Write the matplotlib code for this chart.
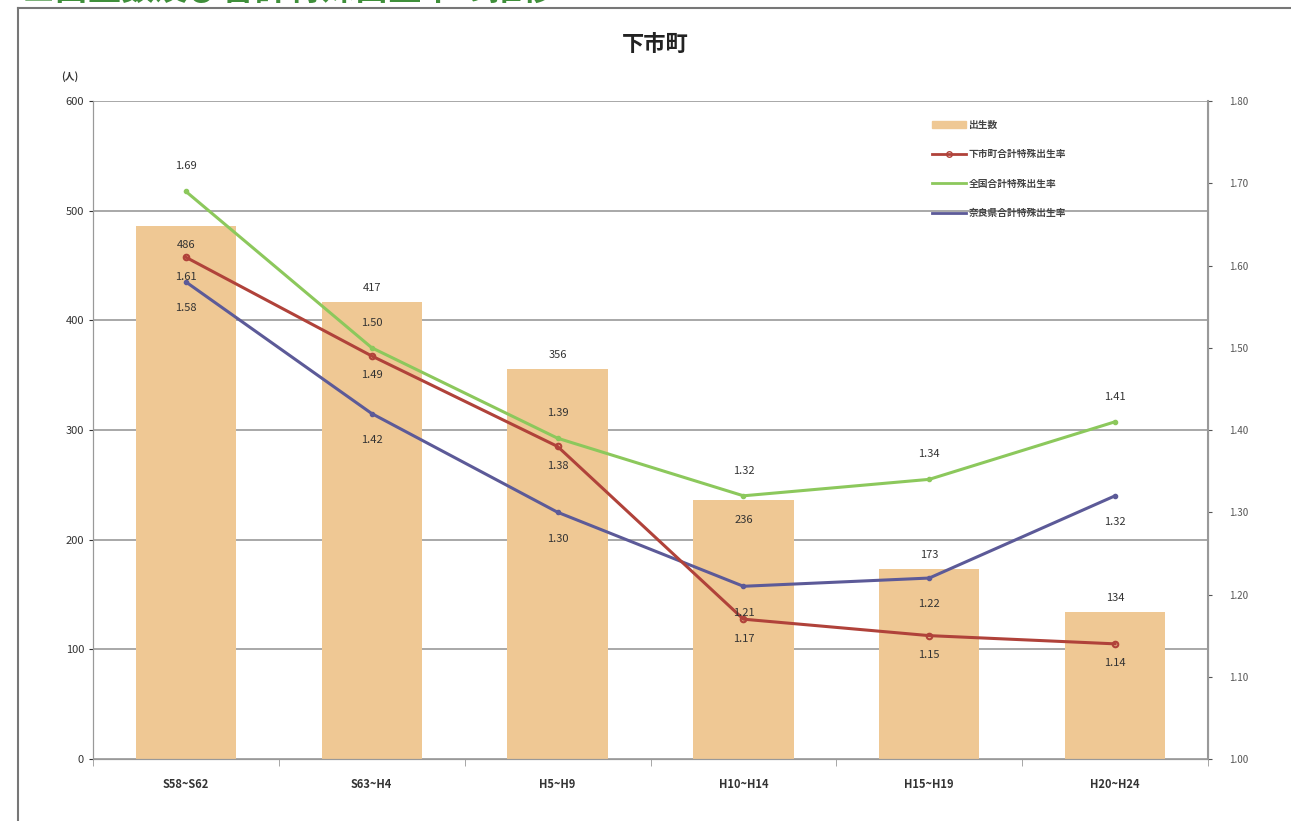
import numpy as np
import matplotlib
matplotlib.use('Agg')
import matplotlib.pyplot as plt
from matplotlib.lines import Line2D
from matplotlib.patches import Patch

plt.rcParams['font.family'] = ['Noto Sans CJK JP', 'DejaVu Sans']

# data
periods = ['S58~S62', 'S63~H4', 'H5~H9', 'H10~H14', 'H15~H19', 'H20~H24']
births = [486, 417, 356, 236, 173, 134]
rate_town = [1.61, 1.49, 1.38, 1.17, 1.15, 1.14]
rate_japan = [1.69, 1.50, 1.39, 1.32, 1.34, 1.41]
rate_pref = [1.58, 1.42, 1.30, 1.21, 1.22, 1.32]

bar_color = '#EFC894'
red = '#B0423A'
green = '#8CC85C'
blue = '#5C5A98'
text_c = '#333333'

fig = plt.figure(figsize=(12.91, 8.21), dpi=100)
ax = fig.add_axes([93 / 1291, 62 / 821, 1115 / 1291, 658 / 821])
ax2 = ax.twinx()

x = np.arange(len(periods))
ax.bar(x, births, width=0.54, color=bar_color, zorder=2)
ax.set_xlim(-0.5, len(periods) - 0.5)
ax.set_ylim(0, 600)
ax.set_yticks(range(0, 601, 100))
ax.yaxis.grid(True, color='#9a9a9a', lw=1.2, zorder=0)
ax.set_axisbelow(True)
ax.set_xticks(x)
ax.set_xticklabels(periods, fontsize=8, color=text_c, fontweight='bold')
ax.set_xticks(np.arange(-0.5, len(periods)), minor=True)
ax.tick_params(axis='x', which='major', length=0, pad=14)
ax.tick_params(axis='x', which='minor', length=5, color='#999999')
ax.tick_params(axis='y', labelsize=8, colors=text_c, length=3)
for s in ['top']:
    ax.spines[s].set_visible(False)
    ax2.spines[s].set_visible(False)
for s in ['left', 'bottom', 'right']:
    ax.spines[s].set_color('#999999')
    ax2.spines[s].set_color('#999999')
ax2.spines['right'].set_linewidth(1.5)

ax2.set_ylim(1.0, 1.8)
ax2.set_yticks(np.arange(1.0, 1.81, 0.1))
ax2.set_yticklabels([f'{v:.2f}' for v in np.arange(1.0, 1.81, 0.1)])
ax2.tick_params(axis='y', labelsize=7, colors='#555555', length=3, pad=12)

ax2.plot(x, rate_japan, color=green, lw=2.2, marker='o', ms=3, zorder=3)
ax2.plot(x, rate_town, color=red, lw=2.2, marker='o', ms=4, mfc='none', mew=1.5, zorder=4)
ax2.plot(x, rate_pref, color=blue, lw=2.2, marker='o', ms=3, zorder=3)

# labels
for i, v in enumerate(births):
    off = -14 if i in (0, 3) else 10
    ax.annotate(str(v), (x[i], v), xytext=(0, off), textcoords='offset points',
                ha='center', va='center', fontsize=8, color=text_c, zorder=5)
for i, v in enumerate(rate_japan):
    ax2.annotate(f'{v:.2f}', (x[i], v), xytext=(0, 18), textcoords='offset points',
                 ha='center', va='center', fontsize=8, color=text_c, zorder=5)
for i, v in enumerate(rate_town):
    ax2.annotate(f'{v:.2f}', (x[i], v), xytext=(0, -14), textcoords='offset points',
                 ha='center', va='center', fontsize=8, color=text_c, zorder=5)
for i, v in enumerate(rate_pref):
    ax2.annotate(f'{v:.2f}', (x[i], v), xytext=(0, -19), textcoords='offset points',
                 ha='center', va='center', fontsize=8, color=text_c, zorder=5)

handles = [Patch(color=bar_color),
           Line2D([], [], color=red, lw=2, marker='o', ms=4, mfc='none'),
           Line2D([], [], color=green, lw=2),
           Line2D([], [], color=blue, lw=2)]
names = ['出生数', '下市町合計特殊出生率', '全国合計特殊出生率', '奈良県合計特殊出生率']
leg = ax2.legend(handles, names, loc='upper left', bbox_to_anchor=(0.745, 0.985),
                 frameon=False, fontsize=7, handlelength=3.5, handletextpad=0.2,
                 labelspacing=2.0)
for t in leg.get_texts():
    t.set_color('#444444')
    t.set_fontweight('bold')

fig.text(655 / 1291, 1 - 45 / 821, '下市町', ha='center', va='center',
         fontsize=16, fontweight='bold', color='#222222')
fig.text(70 / 1291, 1 - 77 / 821, '(人)', ha='center', va='center',
         fontsize=7, color=text_c, fontweight='bold')

# scanned page frame and cut-off heading
fig.add_artist(Line2D([18 / 1291, 18 / 1291], [0, 1 - 8 / 821], color='#777777', lw=1.5))
fig.add_artist(Line2D([18 / 1291, 1], [1 - 8 / 821, 1 - 8 / 821], color='#777777', lw=1.5))
fig.text(22 / 1291, 1.012, '■出生数及び合計特殊出生率の推移', ha='left', va='center',
         fontsize=24, fontweight='bold', color='#3f8f3a')

fig.savefig('out.png', dpi=100)
